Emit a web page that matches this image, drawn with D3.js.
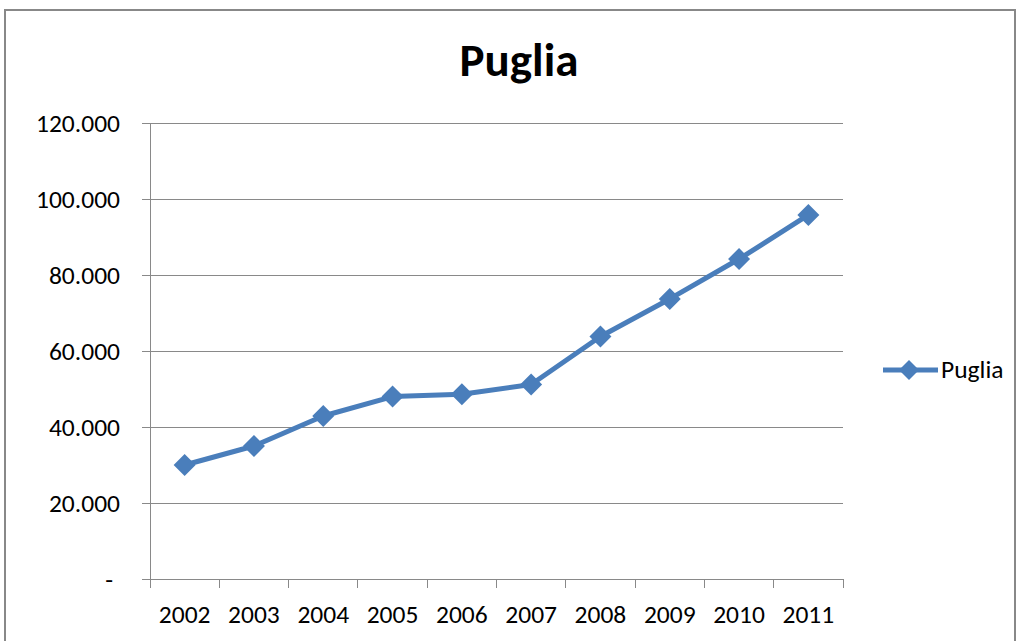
<!DOCTYPE html>
<html><head><meta charset="utf-8">
<script src="https://cdn.jsdelivr.net/npm/d3@7"></script>
<style>body{margin:0;background:#fff}svg{display:block}text{font-family:Carlito,Calibri,"Open Sans",sans-serif}</style>
</head><body>
<script>
const years = ["2002","2003","2004","2005","2006","2007","2008","2009","2010","2011"];
const values = [30000,35000,42900,48000,48600,51200,63800,73700,84200,95800];
const yTicks = [0,20000,40000,60000,80000,100000,120000];
const seriesName = "Puglia";
const title = "Puglia";
(function(){
const W=1019,H=641;
const svg=d3.select("body").append("svg").attr("width",W).attr("height",H);
svg.append("rect").attr("x",5).attr("y",10).attr("width",1010).attr("height",640)
  .attr("fill","#fff").attr("stroke","#888").attr("stroke-width",2);

const pL=150,pR=843,pT=123,pB=579;
const x=d3.scaleBand().domain(years).range([pL,pR]);
const y=d3.scaleLinear().domain([0,120000]).range([pB,pT]);
const fmt=d3.formatLocale({decimal:",",thousands:".",grouping:[3],currency:["€",""]}).format(",d");
const lab=v=> v===0?"-":fmt(v);
const color="#4A7EBB";

svg.append("g").selectAll("line").data(yTicks).join("line")
  .attr("x1",142).attr("x2",pR).attr("y1",d=>y(d)).attr("y2",d=>y(d))
  .attr("stroke","#898989").attr("stroke-width",1).attr("shape-rendering","crispEdges");
svg.append("line").attr("x1",pL).attr("x2",pL).attr("y1",pT).attr("y2",pB)
  .attr("stroke","#898989").attr("shape-rendering","crispEdges");
const xt=years.map(d=>x(d)).concat([pR]);
svg.append("g").selectAll("line").data(xt).join("line")
  .attr("x1",d=>d).attr("x2",d=>d).attr("y1",pB).attr("y2",pB+9)
  .attr("stroke","#898989").attr("shape-rendering","crispEdges");

svg.append("g").selectAll("text").data(yTicks).join("text")
  .attr("x",d=>d===0?113:120).attr("y",d=>y(d)+9).attr("text-anchor","end")
  .attr("font-size",25.5).attr("fill","#000").text(lab);
svg.append("g").selectAll("text").data(years).join("text")
  .attr("x",d=>x(d)+x.bandwidth()/2).attr("y",623).attr("text-anchor","middle")
  .attr("font-size",25.5).attr("fill","#000").text(d=>d);

svg.append("text").attr("x",519).attr("y",76).attr("text-anchor","middle")
  .attr("font-size",47).attr("font-weight","bold").text(title);

const cx=d=>x(d)+x.bandwidth()/2;
const line=d3.line().x((d,i)=>cx(years[i])).y(d=>y(d));
svg.append("path").datum(values).attr("d",line).attr("fill","none")
  .attr("stroke",color).attr("stroke-width",5).attr("stroke-linejoin","round");
const diamond=(a,b,r)=>`M${a},${b-r}L${a+r},${b}L${a},${b+r}L${a-r},${b}Z`;
svg.append("g").selectAll("path").data(values).join("path")
  .attr("d",(d,i)=>diamond(cx(years[i]),y(d),11)).attr("fill",color);

svg.append("line").attr("x1",883).attr("x2",938).attr("y1",370).attr("y2",370)
  .attr("stroke",color).attr("stroke-width",5);
svg.append("path").attr("d",diamond(909,370,10)).attr("fill",color);
svg.append("text").attr("x",941).attr("y",378).attr("font-size",25.5).text(seriesName);
})();
</script>
</body></html>
